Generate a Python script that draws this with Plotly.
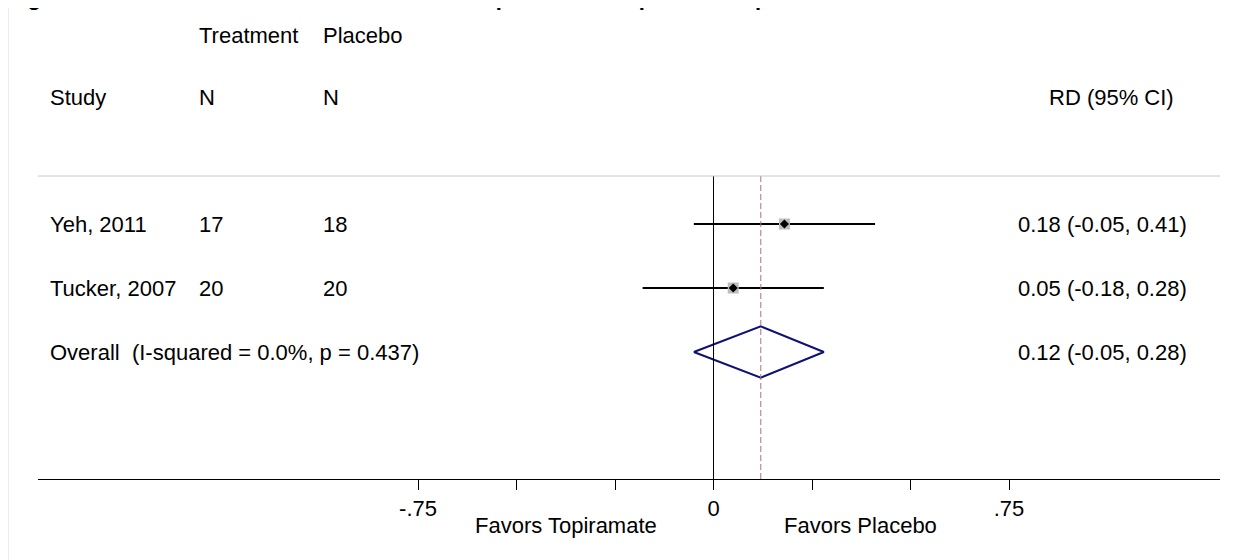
import plotly.graph_objects as go

# ---- data ----
studies = ["Yeh, 2011", "Tucker, 2007"]
n_treatment = [17, 20]
n_placebo = [18, 20]
rd = [0.18, 0.05]
ci_low = [-0.05, -0.18]
ci_high = [0.41, 0.28]
rd_text = ["0.18 (-0.05, 0.41)", "0.05 (-0.18, 0.28)"]
overall_rd = 0.12
overall_low = -0.05
overall_high = 0.28
overall_text = "0.12 (-0.05, 0.28)"
overall_label = "Overall  (I-squared = 0.0%, p = 0.437)"
tick_vals = [-0.75, -0.5, -0.25, 0, 0.25, 0.5, 0.75]
tick_text = ["-.75", "", "", "0", "", "", ".75"]
favors_left = "Favors Topiramate"
favors_right = "Favors Placebo"
title_text = "Figure 10. Remission at end of treatment for topiramate compared with placebo"

row_y = [4, 3]
overall_y = 2

FONT = "Liberation Sans, Arial, Helvetica, sans-serif"
FS = 22

OFF = 8  # page body margin
W, H = 1238, 560
ML, MR, MT, MB = 38 - OFF, 1238 - (1220 - OFF), 176 - OFF, 560 - (479 - OFF)
PW = W - ML - MR
PH = H - MT - MB

def px_x(px):
    return (px - OFF - ML) / PW

def px_y(py):
    return (H - MB - (py - OFF)) / PH

fig = go.Figure()

# CI lines
for i in range(len(studies)):
    fig.add_trace(go.Scatter(x=[ci_low[i], ci_high[i]], y=[row_y[i], row_y[i]],
                             mode="lines", line=dict(color="black", width=2),
                             hoverinfo="skip", showlegend=False))
# weight squares
fig.add_trace(go.Scatter(x=rd, y=row_y, mode="markers",
                         marker=dict(symbol="square", size=11, color="#bdbdbd",
                                     line=dict(width=0)),
                         hoverinfo="skip", showlegend=False))
# point estimates
fig.add_trace(go.Scatter(x=rd, y=row_y, mode="markers",
                         marker=dict(symbol="diamond", size=7, color="black",
                                     line=dict(width=0)),
                         hoverinfo="skip", showlegend=False))
# overall diamond
dh = 0.4
fig.add_trace(go.Scatter(
    x=[overall_low, overall_rd, overall_high, overall_rd, overall_low],
    y=[overall_y, overall_y + dh, overall_y, overall_y - dh, overall_y],
    mode="lines", line=dict(color="#0f0f78", width=2),
    hoverinfo="skip", showlegend=False))

# reference lines
fig.add_shape(type="line", xref="x", yref="paper", x0=0, x1=0, y0=0, y1=1,
              line=dict(color="black", width=1))
fig.add_shape(type="line", xref="x", yref="paper", x0=overall_rd, x1=overall_rd,
              y0=0, y1=1, line=dict(color="#b0707a", width=1, dash="6px,3px"))
fig.add_shape(type="line", xref="paper", yref="paper", x0=0, x1=1, y0=1, y1=1,
              line=dict(color="#c8c8c8", width=1))
# faint page border at left
fig.add_shape(type="line", xref="paper", yref="paper", x0=px_x(8.5), x1=px_x(8.5),
              y0=px_y(568), y1=px_y(6), line=dict(color="#e6eef0", width=1))

ann = []
def txt(text, x, y, xanchor="left", yref="paper", xref="paper", size=FS, bold=False):
    ann.append(dict(text=("<b>%s</b>" % text) if bold else text, x=x, y=y,
                    xref=xref, yref=yref, xanchor=xanchor, yanchor="middle",
                    showarrow=False, font=dict(family=FONT, size=size, color="black")))

# headers
txt("Treatment", px_x(197), px_y(35))
txt("Placebo", px_x(321), px_y(35))
txt("Study", px_x(48), px_y(97))
txt("N", px_x(197), px_y(97))
txt("N", px_x(321), px_y(97))
txt("RD (95% CI)", px_x(1176), px_y(97), xanchor="right")

for i in range(len(studies)):
    txt(studies[i], px_x(48), row_y[i], yref="y")
    txt(str(n_treatment[i]), px_x(197), row_y[i], yref="y")
    txt(str(n_placebo[i]), px_x(321), row_y[i], yref="y")
    txt(rd_text[i], px_x(1016), row_y[i], yref="y")
txt(overall_label, px_x(48), overall_y, yref="y")
txt(overall_text, px_x(1016), overall_y, yref="y")

# favors labels
txt(favors_left, -0.375, px_y(525), xanchor="center", xref="x")
txt(favors_right, 0.372, px_y(525), xanchor="center", xref="x")

# title, mostly above the visible page (only its lowest pixels show)
txt(title_text, px_x(6), px_y(-3), bold=True, size=22)

fig.update_layout(
    width=W, height=H,
    margin=dict(l=ML, r=MR, t=MT, b=MB, pad=0),
    paper_bgcolor="white", plot_bgcolor="white",
    annotations=ann,
    xaxis=dict(range=[-1.7145, 1.2855], showgrid=False, zeroline=False,
               showline=True, linecolor="black", linewidth=1,
               ticks="outside", ticklen=10, tickwidth=1, tickcolor="black",
               tickvals=tick_vals, ticktext=tick_text,
               tickfont=dict(family=FONT, size=FS, color="black"), fixedrange=True),
    yaxis=dict(range=[0.016, 4.75], visible=False, fixedrange=True),
    showlegend=False,
)

fig.write_html("out.html")
